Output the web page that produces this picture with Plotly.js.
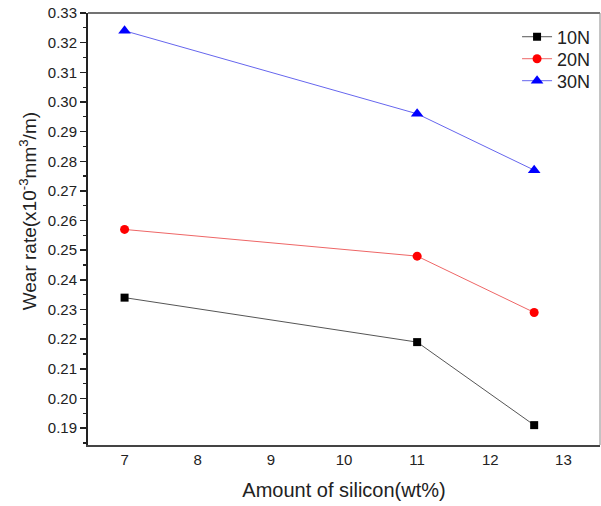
<!DOCTYPE html>
<html>
<head>
<meta charset="utf-8">
<script src="https://cdn.plot.ly/plotly-3.0.1.min.js"></script>
<style>html,body{margin:0;padding:0;background:#fff;}#chart{width:601px;height:506px;}</style>
</head>
<body>
<div id="chart"></div>
<script>
const silicon = [7, 11, 12.6];
const wear10N = [0.234, 0.219, 0.191];
const wear20N = [0.257, 0.248, 0.229];
const wear30N = [0.324, 0.296, 0.277];
const seriesNames = ['10N', '20N', '30N'];
const yTitle = 'Wear rate(x10<sup>-3</sup>mm<sup>3</sup>/m)';
const xTitle = 'Amount of silicon(wt%)';

const traces = [
  {x: silicon, y: wear10N, name: seriesNames[0], mode: 'lines+markers', type: 'scatter', legend: 'legend',
   line: {color: '#555555', width: 1}, marker: {symbol: 'square', size: 8, color: '#000000'}},
  {x: silicon, y: wear20N, name: seriesNames[1], mode: 'lines+markers', type: 'scatter', legend: 'legend2',
   line: {color: '#ee6666', width: 1}, marker: {symbol: 'circle', size: 9, color: '#ff0000'}},
  {x: silicon, y: wear30N, name: seriesNames[2], mode: 'lines+markers', type: 'scatter', legend: 'legend3',
   line: {color: '#6666ee', width: 1}, marker: {symbol: 'triangle-up', size: 11, color: '#0000ff'}}
];

function leg(y) {
  return {x: 0.838, y: y, xanchor: 'left', yanchor: 'middle', bgcolor: 'rgba(0,0,0,0)',
          font: {size: 18, color: '#222222'}};
}

const layout = {
  width: 601, height: 506,
  margin: {l: 88, r: 1, t: 13, b: 61},
  paper_bgcolor: '#ffffff', plot_bgcolor: '#ffffff',
  font: {family: 'Liberation Sans, Arial, sans-serif', color: '#222222'},
  showlegend: true,
  legend: leg(0.9444),
  legend2: leg(0.8935),
  legend3: leg(0.8426),
  xaxis: {
    range: [6.5, 13.5], dtick: 1, tick0: 7, ticks: '', showgrid: false, zeroline: false,
    showline: true, linecolor: '#444444', linewidth: 2, mirror: false,
    tickfont: {size: 15, color: '#222222'},
    title: {text: xTitle, font: {size: 20, color: '#222222'}, standoff: 16}
  },
  yaxis: {
    range: [0.1843, 0.33], dtick: 0.01, tick0: 0.19, tickformat: '.2f',
    ticks: 'outside', ticklen: 6, tickwidth: 1.5, tickcolor: '#222222',
    minor: {dtick: 0.005, ticks: 'outside', ticklen: 3, tickwidth: 1.2, tickcolor: '#222222'},
    showgrid: false, zeroline: false, showline: true, linecolor: '#222222', linewidth: 2,
    tickfont: {size: 15, color: '#222222'}
  },
  annotations: [
    {text: yTitle, xref: 'paper', yref: 'paper', x: -0.118, y: 0.54, xanchor: 'center', yanchor: 'middle',
     textangle: -90, showarrow: false, font: {size: 19, color: '#222222'}}
  ],
  shapes: [
    {type: 'line', xref: 'paper', yref: 'paper', x0: 0, x1: 1, y0: 1, y1: 1, line: {color: '#444444', width: 1.5}},
    {type: 'line', xref: 'paper', yref: 'paper', x0: 1, x1: 1, y0: 0, y1: 1, line: {color: '#888888', width: 1}}
  ]
};

Plotly.newPlot('chart', traces, layout, {displayModeBar: false, staticPlot: true});
</script>
</body>
</html>
